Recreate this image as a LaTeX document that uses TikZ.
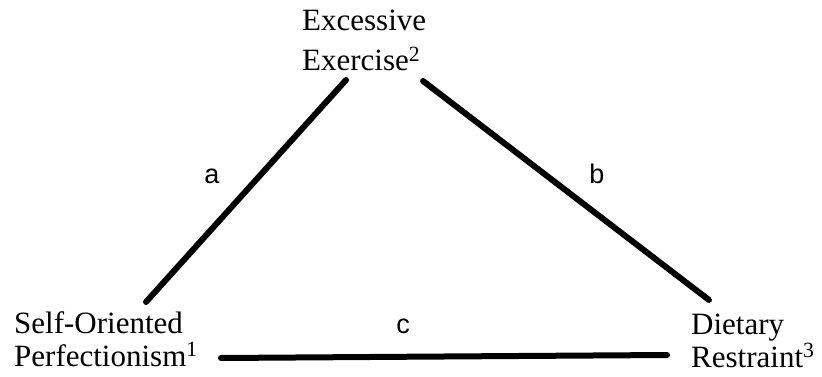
\documentclass[tikz,border=0pt]{standalone}
\usepackage{fontspec}
\setmainfont{Liberation Serif}
\newfontfamily\pathfont{Liberation Sans}
\usepackage{tikz}
\usetikzlibrary{positioning}

\begin{document}
\begin{tikzpicture}[x=1pt, y=-1pt,
  varText/.style ={inner sep=0pt, align=left, anchor=base west, font=\fontsize{31}{33}\selectfont},
  pathLabel/.style={inner sep=0pt, anchor=base, font=\pathfont\fontsize{27}{30}\selectfont},
  link/.style    ={black, line width=6pt, line cap=round},
]
\useasboundingbox (0,0) rectangle (822,377);

% the three variables (anchored on the baseline of their last line)
\node[varText, font=\fontsize{31}{40}\selectfont] (exercise) at (302,71) {Excessive\\Exercise\textsuperscript{2}};
\node[varText] (perfect) at (14,366) {Self-Oriented\\Perfectionism\textsuperscript{1}};
\node[varText] (restraint) at (691,367) {Dietary\\Restraint\textsuperscript{3}};

% line ends
\coordinate (aTop) at (346,80);
\coordinate (aBot) at (146,302);
\coordinate (bTop) at (423,81);
\coordinate (bBot) at (709,300);
\coordinate (cLeft) at (221,358);
\coordinate (cRight) at (667,355);

\draw[link] (aTop) -- (aBot);
\draw[link] (bTop) -- (bBot);
\draw[link] (cLeft) -- (cRight);

% path labels
\node[pathLabel] (pa) at (212,183) {a};
\node[pathLabel] (pb) at (597,183) {b};
\node[pathLabel] (pc) at (403,333) {c};
\end{tikzpicture}
\end{document}
